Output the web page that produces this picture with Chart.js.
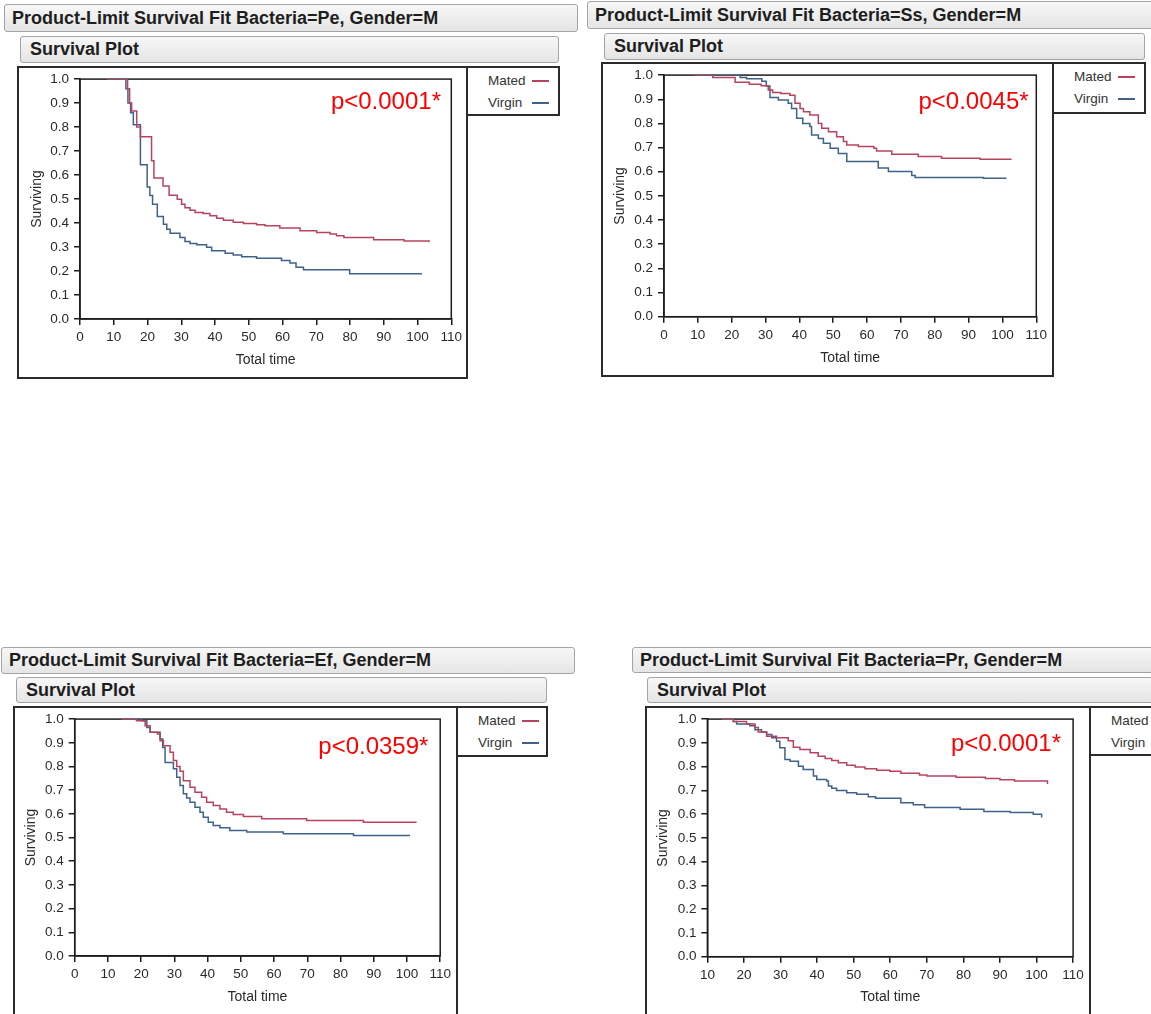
<!DOCTYPE html>
<html>
<head>
<meta charset="utf-8">
<script src="https://cdn.jsdelivr.net/npm/chart.js@4.4.0/dist/chart.umd.min.js"></script>
<style>
  html, body { margin: 0; padding: 0; background: #fff; overflow: hidden; }
  body { width: 1151px; height: 1014px; position: relative; font-family: "Liberation Sans", Arial, sans-serif; }
  .abs { position: absolute; box-sizing: border-box; }
  .hdr { border: 1px solid #a4a4a4; border-radius: 3px; background: linear-gradient(#f7f7f7, #e5e5e5);
         font-weight: bold; font-size: 18px; color: #1e1e1e; white-space: nowrap; overflow: hidden; }
  .frame { border: 2px solid #2b2b2b; }
  .leg { border: 2px solid #2b2b2b; background: #fff; }
  .leg span { position: absolute; font-size: 13.5px; color: #333; line-height: 18px; }
  .leg i { position: absolute; height: 1.5px; width: 17px; }
  .pval { color: #ff0000; font-size: 24px; text-align: right; line-height: 30px; height: 30px; white-space: nowrap; }
</style>
</head>
<body>
<script>
/* Courbes Kaplan-Meier : temps (x) et survie (y) après chaque pas. */
const peMatedTime  = [8, 14.1, 14.7, 15.3, 16.8, 17.9, 21.2, 21.9, 24.6, 26.4, 28.8, 30.1, 31.1, 32.6, 34.1, 36.5, 38.5, 40.5, 42.5, 45.4, 48.4, 52.3, 54.8, 59.2, 65.2, 70.1, 74.1, 76, 78.2, 87, 96, 103.4];
const peMatedSurv  = [1, 0.96, 0.9, 0.867, 0.8, 0.76, 0.66, 0.588, 0.554, 0.516, 0.499, 0.478, 0.464, 0.453, 0.444, 0.44, 0.43, 0.42, 0.412, 0.403, 0.398, 0.393, 0.389, 0.379, 0.368, 0.361, 0.354, 0.347, 0.34, 0.33, 0.325, 0.32];
const peVirginTime = [8, 13.6, 14.2, 15, 15.8, 17.9, 19.9, 20.7, 21.5, 22.9, 24.7, 25.7, 26.7, 29.6, 31.1, 32.6, 34.6, 37.5, 39, 43, 45.4, 47.9, 52.3, 59.7, 62.2, 64, 66.2, 79.9, 101.3];
const peVirginSurv = [1, 0.96, 0.9, 0.86, 0.81, 0.643, 0.55, 0.515, 0.478, 0.427, 0.395, 0.374, 0.357, 0.34, 0.323, 0.315, 0.31, 0.299, 0.285, 0.274, 0.267, 0.26, 0.253, 0.244, 0.233, 0.216, 0.205, 0.189, 0.189];

const ssMatedTime  = [9, 14.4, 21, 25.2, 28.7, 30.8, 32.1, 34.5, 37.2, 38.7, 40.2, 41.2, 43.1, 45.6, 46.6, 48.6, 51, 53, 54, 57.4, 62, 62.8, 67.3, 75.1, 82, 93.4, 102.7];
const ssMatedSurv  = [1, 0.99, 0.97, 0.962, 0.956, 0.938, 0.928, 0.924, 0.917, 0.883, 0.862, 0.848, 0.835, 0.8, 0.78, 0.766, 0.745, 0.725, 0.711, 0.704, 0.697, 0.686, 0.672, 0.663, 0.656, 0.652, 0.652];
const ssVirginTime = [9, 22.5, 24.4, 28.9, 30.2, 31.3, 33.8, 36.7, 37.7, 39.2, 41, 43.1, 43.6, 45.6, 47.1, 49.1, 51.5, 54, 63.3, 66.3, 73.2, 74.2, 94.4, 101.2];
const ssVirginSurv = [1, 0.99, 0.985, 0.975, 0.955, 0.907, 0.897, 0.883, 0.862, 0.821, 0.8, 0.787, 0.752, 0.738, 0.718, 0.697, 0.676, 0.642, 0.615, 0.601, 0.584, 0.576, 0.573, 0.573];

const efMatedTime  = [14.1, 18.6, 21.2, 22.7, 24.9, 25.7, 26.7, 28.7, 29.7, 30.7, 31.7, 32.7, 34.7, 36.2, 38.2, 39.7, 41.7, 43.7, 45.7, 47.7, 50.8, 56.3, 69.8, 86.9, 102.9];
const efMatedSurv  = [1, 0.993, 0.972, 0.944, 0.937, 0.909, 0.888, 0.86, 0.825, 0.8, 0.78, 0.74, 0.712, 0.691, 0.67, 0.649, 0.635, 0.621, 0.607, 0.597, 0.589, 0.579, 0.572, 0.565, 0.565];
const efVirginTime = [14.1, 20.2, 21.7, 22.7, 25.7, 26.5, 27.2, 29.7, 30.7, 31.7, 32.7, 33.7, 34.7, 36.2, 37.7, 38.7, 40.2, 41.7, 43.7, 46.7, 51.8, 62.8, 83.9, 100.9];
const efVirginSurv = [1, 0.993, 0.965, 0.944, 0.916, 0.88, 0.817, 0.79, 0.755, 0.72, 0.685, 0.667, 0.649, 0.628, 0.607, 0.586, 0.565, 0.551, 0.541, 0.53, 0.523, 0.516, 0.509, 0.509];

const prMatedTime  = [13.9, 17.1, 20.7, 23, 23.9, 26.2, 28.9, 32.1, 33.5, 35.3, 38.1, 40.3, 42.2, 44, 45.8, 48.1, 50.4, 53.1, 56.3, 59.9, 62.9, 68, 70, 78, 86, 90, 94, 102.8, 103];
const prMatedSurv  = [1, 0.99, 0.979, 0.965, 0.946, 0.928, 0.921, 0.909, 0.881, 0.872, 0.858, 0.844, 0.834, 0.826, 0.816, 0.806, 0.798, 0.791, 0.785, 0.781, 0.772, 0.765, 0.76, 0.755, 0.75, 0.745, 0.74, 0.74, 0.727];
const prVirginTime = [13.9, 17.1, 18, 21.6, 23, 24.8, 26.2, 27.6, 28.9, 29.8, 31.2, 32.6, 34.9, 36.2, 39, 39.9, 42.6, 43.1, 44, 45.3, 48.1, 50.8, 54, 56, 62.9, 66.3, 69.4, 79.1, 85.6, 92.8, 99.1, 101.4];
const prVirginSurv = [1, 0.99, 0.979, 0.972, 0.955, 0.946, 0.935, 0.921, 0.907, 0.879, 0.83, 0.823, 0.802, 0.788, 0.76, 0.746, 0.739, 0.718, 0.709, 0.7, 0.69, 0.684, 0.673, 0.667, 0.648, 0.639, 0.628, 0.621, 0.611, 0.607, 0.6, 0.586];

const SERIES_NAMES = ['Mated', 'Virgin'];
const P_VALUES = ['p<0.0001*', 'p<0.0045*', 'p<0.0359*', 'p<0.0001*'];
const BACTERIA = ['Pe', 'Ss', 'Ef', 'Pr'];
const X_MIN = [0, 0, 0, 10];
const X_MAX = 110, X_STEP = 10, Y_STEP = 0.1;

const RED = '#b8435f';
const BLUE = '#3f6289';
const INK = '#1c1c1c';
const FONT = '"Liberation Sans", Arial, sans-serif';

/* Géométrie mesurée sur la capture (px) : boîtes d'en-tête, cadre, légende, zone de tracé. */
const LAYOUT = [
  { head: [4, 4, 574, 28], sub: [20, 36, 539, 27], frame: [17, 66, 451, 313], leg: [466, 66, 94, 50],
    plot: [80, 77, 451.3, 319], xTitleY: 360, yTitleX: 37, pRight: 441, pY: 101 },
  { head: [587, 1, 620, 28], sub: [604, 33, 541, 27], frame: [601, 62, 453, 315], leg: [1052, 62, 94, 52],
    plot: [664, 74.7, 1036.3, 316.7], xTitleY: 358, yTitleX: 620, pRight: 1028.6, pY: 101 },
  { head: [1, 647, 574, 27], sub: [16, 677, 531, 26], frame: [13, 706, 445, 340], leg: [456, 706, 92, 51],
    plot: [74.7, 718.3, 440.2, 956], xTitleY: 997.3, yTitleX: 31.4, pRight: 428.4, pY: 746 },
  { head: [632, 647, 620, 26], sub: [647, 677, 620, 26], frame: [645, 706, 446, 340], leg: [1089, 706, 100, 50],
    plot: [707.4, 717.7, 1073.1, 956.7], xTitleY: 997.3, yTitleX: 663.3, pRight: 1061, pY: 742.7 },
];
const SERIES = [
  [[peMatedTime, peMatedSurv], [peVirginTime, peVirginSurv]],
  [[ssMatedTime, ssMatedSurv], [ssVirginTime, ssVirginSurv]],
  [[efMatedTime, efMatedSurv], [efVirginTime, efVirginSurv]],
  [[prMatedTime, prMatedSurv], [prVirginTime, prVirginSurv]],
];

const PAGE_H = 1014;
const TICK_FONT = 13.5, TITLE_FONT = 14;

function box(cls, [x, y, w, h], text, padLeft) {
  const d = document.createElement('div');
  d.className = 'abs ' + cls;
  Object.assign(d.style, { left: x + 'px', top: y + 'px', width: w + 'px', height: h + 'px' });
  if (text != null) {
    d.textContent = text;
    d.style.lineHeight = (h - 2) + 'px';
    d.style.paddingLeft = padLeft + 'px';
  }
  document.body.appendChild(d);
  return d;
}

/* Cadre noir autour de la zone de tracé (JMP ferme les 4 côtés). */
const plotFrame = {
  id: 'plotFrame',
  beforeDatasetsDraw(chart) {
    const { ctx, chartArea: a } = chart;
    ctx.save();
    ctx.strokeStyle = INK;
    ctx.lineWidth = 1.5;
    ctx.strokeRect(a.left, a.top, a.right - a.left, a.bottom - a.top);
    ctx.restore();
  },
};

function toPoints([t, s]) {
  return t.map((x, i) => ({ x, y: s[i] }));
}

function buildPanel(i) {
  const L = LAYOUT[i];
  box('hdr', L.head, `Product-Limit Survival Fit Bacteria=${BACTERIA[i]}, Gender=M`, 7);
  box('hdr', L.sub, 'Survival Plot', 9);
  box('frame', L.frame);

  // légende séparée, à droite du cadre
  const leg = box('leg', L.leg);
  [RED, BLUE].forEach((c, k) => {
    const cy = 15 + k * 22;
    const s = document.createElement('span');
    s.textContent = SERIES_NAMES[k];
    s.style.left = '20px';
    s.style.top = (cy - 9 - 2) + 'px';
    leg.appendChild(s);
    const ln = document.createElement('i');
    ln.style.left = '64px';
    ln.style.top = (cy - 3) + 'px';
    ln.style.background = c;
    leg.appendChild(ln);
  });

  // canvas = intérieur du cadre (coupé en bas de page)
  const [fx, fy, fw, fh] = L.frame;
  const ch = Math.min(fh, PAGE_H - fy);
  const cv = document.createElement('canvas');
  cv.width = fw; cv.height = ch;
  cv.className = 'abs';
  Object.assign(cv.style, { left: fx + 'px', top: fy + 'px', width: fw + 'px', height: ch + 'px' });
  document.body.appendChild(cv);

  const [px0, py0, px1, py1] = L.plot;
  const yW = px0 - fx;
  const xH = fy + ch - py1;
  const half = TITLE_FONT * 1.2 / 2;

  const line = (k, color) => ({
    label: SERIES_NAMES[k],
    data: toPoints(SERIES[i][k]),
    borderColor: color,
    borderWidth: 1.5,
    pointRadius: 0,
    stepped: 'before',
    fill: false,
  });

  const tickCommon = { color: '#2a2a2a', font: { size: TICK_FONT, family: FONT }, autoSkip: false, maxRotation: 0 };
  const gridCommon = { drawOnChartArea: false, tickLength: 6, color: INK, lineWidth: 1.5 };

  new Chart(cv.getContext('2d'), {
    type: 'line',
    plugins: [plotFrame],
    data: { datasets: [line(0, RED), line(1, BLUE)] },
    options: {
      responsive: false,
      animation: false,
      layout: { padding: { top: py0 - fy, right: fx + fw - px1, left: 0, bottom: 0 } },
      scales: {
        x: {
          type: 'linear',
          min: X_MIN[i], max: X_MAX,
          afterFit: s => { s.height = xH; },
          ticks: { ...tickCommon, stepSize: X_STEP, padding: 4 },
          grid: gridCommon,
          border: { color: INK, width: 1.5 },
          title: { display: true, text: 'Total time', color: '#2a2a2a',
                   font: { size: TITLE_FONT, family: FONT },
                   padding: { top: 0, bottom: (fy + ch - L.xTitleY) - half } },
        },
        y: {
          min: 0, max: 1,
          afterFit: s => { s.width = yW; },
          ticks: { ...tickCommon, stepSize: Y_STEP, padding: 5, callback: v => v.toFixed(1) },
          grid: gridCommon,
          border: { color: INK, width: 1.5 },
          title: { display: true, text: 'Surviving', color: '#2a2a2a',
                   font: { size: TITLE_FONT, family: FONT },
                   padding: { top: (L.yTitleX - fx) - half, bottom: 0 } },
        },
      },
      plugins: { legend: { display: false }, tooltip: { enabled: false } },
    },
  });

  // valeur p en rouge, alignée à droite dans la zone de tracé
  const p = box('pval', [L.pRight - 200, L.pY - 15, 200, 30]);
  p.textContent = P_VALUES[i];
}

LAYOUT.forEach((_, i) => buildPanel(i));
</script>
</body>
</html>
